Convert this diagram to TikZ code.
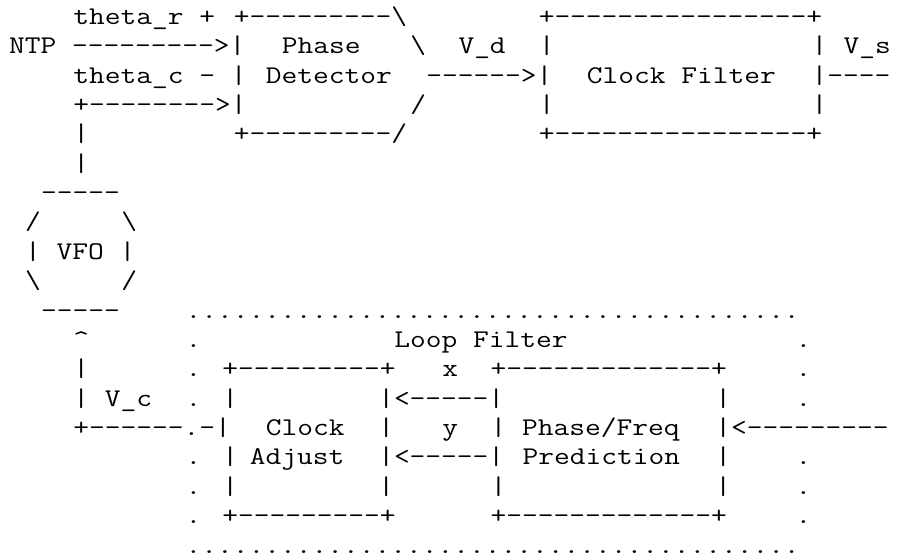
\documentclass[tikz,border=0pt]{standalone}
\usepackage[]{graphicx}
\usepackage[]{tikz}
\newcommand{\asciifont}{\ttfamily\fontsize{25.5}{30}\selectfont}
\tikzset{
  asc/.style={inner sep=0,outer sep=0,anchor=base west,font=\asciifont,black}, % one run of characters, on the grid
}
\newcommand{\asc}[4][]{\node[asc,#1] at (#2) (#3) {\scalebox{1.199}[1]{#4}}}

\begin{document}
\begin{tikzpicture}[x=16.05pt,y=-29.375pt]
  \useasboundingbox (-9.1pt,24.25pt) rectangle (889.9pt,-533.75pt);
  % phase detector and clock filter
  \asc{4,0}{thetar}{theta\_r +};
  \asc{14,0}{pdtop}{+---------\textbackslash};
  \asc{33,0}{cftop}{+----------------+};
  \asc{0,1}{ntp}{NTP --------->|};
  \asc{17,1}{phase}{Phase};
  \asc{25,1}{pdne}{\textbackslash};
  \asc{28,1}{vd}{V\_d};
  \asc{33,1}{cfl1}{|};
  \asc{50,1}{cfr1}{|};
  \asc{52,1}{vs}{V\_s};
  \asc{4,2}{thetac}{theta\_c - |};
  \asc{16,2}{detector}{Detector};
  \asc{26,2}{vdarrow}{------>|};
  \asc{36,2}{clockfilter}{Clock Filter};
  \asc{50,2}{vsout}{|----};
  \asc{4,3}{pdin}{+-------->|};
  \asc{25,3}{pdse}{/};
  \asc{33,3}{cfl3}{|};
  \asc{50,3}{cfr3}{|};
  \asc{4,4}{vfoup4}{|};
  \asc{14,4}{pdbot}{+---------/};
  \asc{33,4}{cfbot}{+----------------+};
  \asc{4,5}{vfoup5}{|};
  % vfo
  \asc{2,6}{vfotop}{-----};
  \asc{1,7}{vfonw}{/};
  \asc{7,7}{vfone}{\textbackslash};
  \asc{1,8}{vfo}{| VFO |};
  \asc{1,9}{vfosw}{\textbackslash};
  \asc{7,9}{vfose}{/};
  \asc{2,10}{vfobot}{-----};
  % loop filter
  \asc{11,10}{lftop}{.......................................};
  \asc{4,11}{vcup}{\textasciicircum};
  \asc{11,11}{lfl11}{.};
  \asc{24,11}{loopfilter}{Loop Filter};
  \asc{49,11}{lfr11}{.};
  \asc{4,12}{vc12}{|};
  \asc{11,12}{catop}{. +---------+};
  \asc{27,12}{x}{x};
  \asc{30,12}{pftop}{+-------------+};
  \asc{49,12}{lfr12}{.};
  \asc{4,13}{vc}{| V\_c};
  \asc{11,13}{cal13}{. |};
  \asc{23,13}{xarrow}{|<-----|};
  \asc{44,13}{pfr13}{|};
  \asc{49,13}{lfr13}{.};
  \asc{4,14}{vcout}{+------.-|};
  \asc{16,14}{clock}{Clock};
  \asc{23,14}{car14}{|};
  \asc{27,14}{y}{y};
  \asc{30,14}{phasefreq}{| Phase/Freq};
  \asc{44,14}{pfin}{|<---------};
  \asc{11,15}{cal15}{. |};
  \asc{15,15}{adjust}{Adjust};
  \asc{23,15}{yarrow}{|<-----|};
  \asc{32,15}{prediction}{Prediction};
  \asc{44,15}{pfr15}{|};
  \asc{49,15}{lfr15}{.};
  \asc{11,16}{cal16}{. |};
  \asc{23,16}{car16}{|};
  \asc{30,16}{pfl16}{|};
  \asc{44,16}{pfr16}{|};
  \asc{49,16}{lfr16}{.};
  \asc{11,17}{cabot}{. +---------+};
  \asc{30,17}{pfbot}{+-------------+};
  \asc{49,17}{lfr17}{.};
  \asc{11,18}{lfbot}{.......................................};
\end{tikzpicture}
\end{document}
